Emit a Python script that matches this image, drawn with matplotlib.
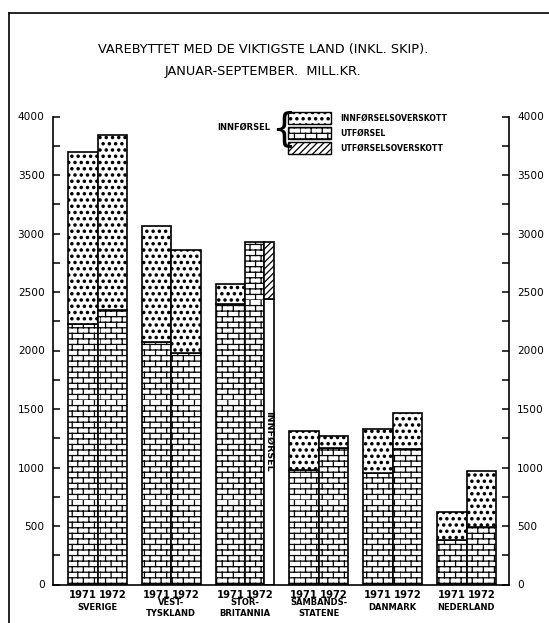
import numpy as np
import matplotlib
matplotlib.use("Agg")
import matplotlib.pyplot as plt
import matplotlib.hatch as mhatch
from matplotlib.path import Path
from matplotlib.patches import Rectangle
from matplotlib.lines import Line2D
from matplotlib import font_manager as fm

# ---------------- data ----------------
countries = ["SVERIGE", "VEST-\nTYSKLAND", "STOR-\nBRITANNIA",
             "SAMBANDS-\nSTATENE", "DANMARK", "NEDERLAND"]
years = ["1971", "1972"]
import_1971 = [3700, 3065, 2570, 1310, 1330, 620]
export_1971 = [2225, 2070, 2400, 975, 955, 380]
import_1972 = [3845, 2860, 2440, 1270, 1465, 970]
export_1972 = [2350, 1975, 2925, 1165, 1160, 490]
y_ticks = [0, 500, 1000, 1500, 2000, 2500, 3000, 3500, 4000]
title_lines = ["VAREBYTTET MED DE VIKTIGSTE LAND (INKL. SKIP).",
               "JANUAR-SEPTEMBER.  MILL.KR."]
legend_group = "INNFØRSEL"
legend_labels = ["INNFØRSELSOVERSKOTT", "UTFØRSEL", "UTFØRSELSOVERSKOTT"]
bar_note = "INNFØRSEL"

# ---------------- fonts ----------------
names = {f.name for f in fm.fontManager.ttflist}
if "Liberation Sans Narrow" in names:
    NARROW = "Liberation Sans Narrow"
    k = 1.0
else:
    NARROW = "DejaVu Sans"
    k = 0.8

# ---------------- custom hatches ----------------
class BrickHatch(mhatch.HatchPatternBase):
    rows = 18
    cols = 9

    def __init__(self, hatch, density):
        self.n = hatch.count('-')
        self.num_vertices = (self.rows + self.rows * self.cols) * 2 if self.n else 0

    def set_vertices_and_codes(self, vertices, codes):
        k_ = 0
        h = 1.0 / self.rows
        for i in range(self.rows):
            y = i * h
            vertices[k_] = (0, y)
            vertices[k_ + 1] = (1, y)
            codes[k_] = Path.MOVETO
            codes[k_ + 1] = Path.LINETO
            k_ += 2
            off = 0.5 * (i % 2)
            for j in range(self.cols):
                x = (j + off) / self.cols
                vertices[k_] = (x, y)
                vertices[k_ + 1] = (x, y + h)
                codes[k_] = Path.MOVETO
                codes[k_ + 1] = Path.LINETO
                k_ += 2


class DotHatch(mhatch.Shapes):
    filled = True
    size = 0.18

    def __init__(self, hatch, density):
        self.num_rows = 16 if 'o' in hatch else 0
        path = Path.unit_circle()
        self.shape_vertices = path.vertices
        self.shape_codes = path.codes
        super().__init__(hatch, density)


new_types = []
for t in mhatch._hatch_types:
    if t is mhatch.HorizontalHatch:
        new_types.append(BrickHatch)
    elif t is mhatch.SmallCircles:
        new_types.append(DotHatch)
    else:
        new_types.append(t)
mhatch._hatch_types = new_types

plt.rcParams['hatch.linewidth'] = 0.9
plt.rcParams['hatch.color'] = 'black'

BRICK = '-'
DOTS = 'o'
DIAG = '/////'

# ---------------- figure ----------------
W, H = 549, 623
fig = plt.figure(figsize=(W / 100, H / 100), dpi=100)
fig.patch.set_facecolor('white')

def fx(px):
    return px / W

def fy(py):
    return 1 - py / H

ax_left, ax_right, ax_top, ax_bot = 53, 509, 116.5, 584.5
ax = fig.add_axes([fx(ax_left), fy(ax_bot), fx(ax_right - ax_left), (ax_bot - ax_top) / H])

spacing = 73.8
c0 = 97.5
ax.set_xlim(-(c0 - ax_left) / spacing, (ax_right - c0) / spacing)
ax.set_ylim(0, 4000)

x = np.arange(len(countries))
bw = 0.4
lw = 1.2

def draw_pair(xc, exp, imp):
    if imp >= exp:
        ax.bar(xc, exp, width=bw, color='white', edgecolor='black', hatch=BRICK, linewidth=lw, zorder=2)
        ax.bar(xc, imp - exp, bottom=exp, width=bw, color='white', edgecolor='black',
               hatch=DOTS, linewidth=lw, zorder=2)
    else:
        left = xc - bw / 2
        ew = 0.25
        iw = 0.14
        ax.bar(left, exp, width=ew, align='edge', color='white', edgecolor='black',
               hatch=BRICK, linewidth=lw, zorder=2)
        ax.bar(left + ew, imp, width=iw, align='edge', color='white', edgecolor='black',
               linewidth=lw, zorder=2)
        ax.bar(left + ew, exp - imp, bottom=imp, width=iw, align='edge', color='white',
               edgecolor='black', hatch=DIAG, linewidth=lw, zorder=2)
        ax.text(left + ew + iw / 2, imp * 0.5, bar_note, rotation=270, ha='center', va='center',
                fontsize=8.5 * k, fontweight='bold', family=NARROW, zorder=3)

for i in range(len(countries)):
    draw_pair(x[i] - bw / 2, export_1971[i], import_1971[i])
    draw_pair(x[i] + bw / 2, export_1972[i], import_1972[i])

# axes styling
ax.spines['top'].set_visible(False)
for s in ['left', 'right', 'bottom']:
    ax.spines[s].set_linewidth(1.2)
ax.set_xticks([])
ax.set_yticks(y_ticks)
ax.set_yticks(np.arange(250, 4000, 500), minor=True)
ax.tick_params(axis='y', which='both', direction='in', length=5, width=1.1,
               left=True, right=True, labelleft=True, labelright=True, pad=6)
ax.set_yticklabels([str(v) for v in y_ticks], fontsize=9.5 * k, family=NARROW)

# year and country labels
tr = ax.get_xaxis_transform()
y_year = -(595 - ax_bot) / (ax_bot - ax_top)
y_cty = -(608 - ax_bot) / (ax_bot - ax_top)
for i in range(len(countries)):
    for j, off in enumerate([-bw / 2, bw / 2]):
        ax.text(x[i] + off, y_year, years[j], transform=tr, ha='center', va='center',
                fontsize=9 * k, family=NARROW, fontweight='bold', clip_on=False)
    ax.text(x[i], y_cty, countries[i], transform=tr, ha='center', va='center',
            fontsize=7.5 * k, family=NARROW, fontweight='bold', linespacing=1.15, clip_on=False)

# title
fig.text(fx(263), fy(50), title_lines[0], ha='center', va='center', fontsize=11.6 * k, family=NARROW)
fig.text(fx(263), fy(72), title_lines[1], ha='center', va='center', fontsize=11.6 * k, family=NARROW)

# legend
box_x, box_w = 288, 43
rows_y = [(112, 124), (127, 139), (142, 154)]
hatches = [DOTS, BRICK, DIAG]
for (y0, y1), hh, lab in zip(rows_y, hatches, legend_labels):
    fig.add_artist(Rectangle((fx(box_x), fy(y1)), fx(box_w), (y1 - y0) / H,
                             facecolor='white', edgecolor='black', hatch=hh, linewidth=1.0,
                             transform=fig.transFigure))
    fig.text(fx(340), fy((y0 + y1) / 2), lab, ha='left', va='center', fontsize=7.0 * k,
             family=NARROW, fontweight='bold')
fig.text(fx(270), fy(127), legend_group, ha='right', va='center', fontsize=7.5 * k,
         family=NARROW, fontweight='bold')
fig.text(fx(283), fy(129), "{", ha='center', va='center', fontsize=28, family='DejaVu Sans')

# outer frame
fig.add_artist(Line2D([fx(9), fx(9)], [fy(13), 0], color='black', linewidth=1.2, transform=fig.transFigure))
fig.add_artist(Line2D([fx(9), 1], [fy(13), fy(13)], color='black', linewidth=1.2, transform=fig.transFigure))

fig.savefig("out.png", dpi=100, facecolor='white')
